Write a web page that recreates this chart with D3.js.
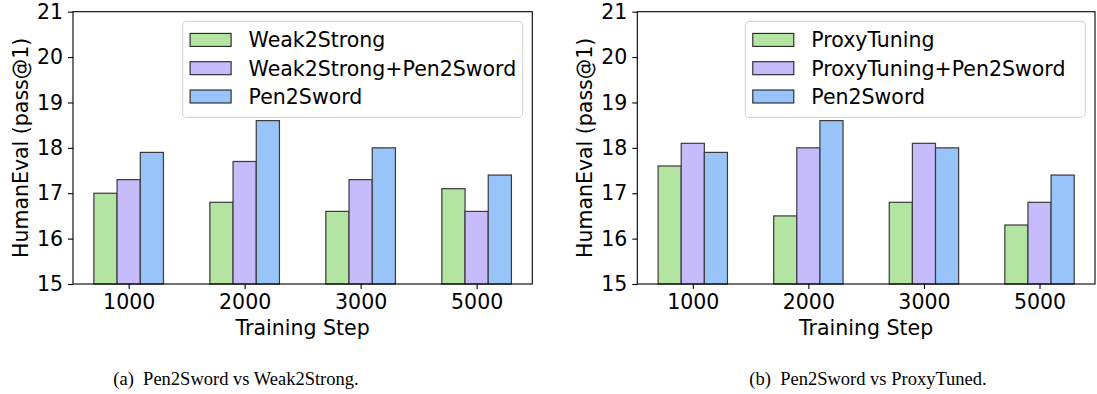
<!DOCTYPE html>
<html>
  <head>
    <script src="https://d3js.org/d3.v7.min.js"></script>
    <style>
      body { margin: 0; background: #fff; }
      text { font-family: "DejaVu Sans", sans-serif; fill: #000; }
      .caption { font-family: "Liberation Serif", "Times New Roman", serif; }
    </style>
  </head>
  <body>
    <script>

      // data
      var steps = ["1000", "2000", "3000", "5000"]
      var yTicks = [15, 16, 17, 18, 19, 20, 21]

      var weak2strong = [17.0, 16.8, 16.6, 17.1]
      var weak2strongPen = [17.3, 17.7, 17.3, 16.6]
      var proxyTuning = [17.6, 16.5, 16.8, 16.3]
      var proxyTuningPen = [18.1, 18.0, 18.1, 16.8]
      var pen2sword = [17.9, 18.6, 18.0, 17.4]

      var leftNames = ["Weak2Strong", "Weak2Strong+Pen2Sword", "Pen2Sword"]
      var rightNames = ["ProxyTuning", "ProxyTuning+Pen2Sword", "Pen2Sword"]
      var captions = ["(a)\u00a0 Pen2Sword vs Weak2Strong.", "(b)\u00a0 Pen2Sword vs ProxyTuned."]

      var colors = ["#b4e4a1", "#c6bcfb", "#98c4fa"]

      // sizes
      var w_svg = 1097
      var h_svg = 394
      var plotTop = 11.7
      var plotBottom = 284
      var fs = 20.5
      var barWidth = 0.2

      var svg = d3.select("body")
        .append("svg")
        .attr("width", w_svg)
        .attr("height", h_svg)

      var panels = [
        { left: 73, right: 532.3, names: leftNames, series: [weak2strong, weak2strongPen, pen2sword], caption: captions[0], capX: 236 },
        { left: 637.3, right: 1095, names: rightNames, series: [proxyTuning, proxyTuningPen, pen2sword], caption: captions[1], capX: 868 }
      ]

      panels.forEach(function(p) {
        draw_panel(p)
      })

      function draw_panel(p) {

        var g = svg.append("g")

        var x_scale = d3.scaleLinear()
          .domain([-0.48, 3.48])
          .range([p.left, p.right])

        var y_scale = d3.scaleLinear()
          .domain([15, 21])
          .range([plotBottom, plotTop])

        // bars
        p.series.forEach(function(values, s) {
          g.selectAll(null)
            .data(values)
            .enter()
            .append("rect")
            .attr("x", function(d, i) { return x_scale(i + (s - 1) * barWidth - barWidth / 2) })
            .attr("y", function(d) { return y_scale(d) })
            .attr("width", x_scale(barWidth) - x_scale(0))
            .attr("height", function(d) { return plotBottom - y_scale(d) })
            .attr("fill", colors[s])
            .attr("stroke", "#3a3a3a")
            .attr("stroke-width", 1.2)
        })

        // x axis
        var x_axis = d3.axisBottom(x_scale)
          .tickValues([0, 1, 2, 3])
          .tickFormat(function(d) { return steps[d] })
          .tickSize(5)
          .tickPadding(5)

        var xg = g.append("g")
          .attr("transform", "translate(0," + plotBottom + ")")
          .call(x_axis)
        xg.select(".domain").remove()
        xg.selectAll("text").style("font-size", fs + "px").attr("font-family", "DejaVu Sans")

        // y axis
        var y_axis = d3.axisLeft(y_scale)
          .tickValues(yTicks)
          .tickFormat(d3.format("d"))
          .tickSize(5)
          .tickPadding(5)

        var yg = g.append("g")
          .attr("transform", "translate(" + p.left + ",0)")
          .call(y_axis)
        yg.select(".domain").remove()
        yg.selectAll("text").style("font-size", fs + "px").attr("font-family", "DejaVu Sans")
        g.selectAll(".tick line").attr("stroke", "#000").attr("stroke-width", 1.1)

        // frame
        g.append("rect")
          .attr("x", p.left)
          .attr("y", plotTop)
          .attr("width", p.right - p.left)
          .attr("height", plotBottom - plotTop)
          .attr("fill", "none")
          .attr("stroke", "#000")
          .attr("stroke-width", 1.1)

        // axis titles
        g.append("text")
          .attr("x", (p.left + p.right) / 2)
          .attr("y", 335)
          .attr("text-anchor", "middle")
          .style("font-size", fs + "px")
          .text("Training Step")

        g.append("text")
          .attr("transform", "translate(" + (p.left - 45) + "," + ((plotTop + plotBottom) / 2) + ") rotate(-90)")
          .attr("text-anchor", "middle")
          .style("font-size", fs + "px")
          .text("HumanEval (pass@1)")

        // legend
        var lw = 340
        var lx = p.right - 9.7 - lw
        var ly = plotTop + 9.7
        var leg = g.append("g")
        leg.append("rect")
          .attr("x", lx)
          .attr("y", ly)
          .attr("width", lw)
          .attr("height", 96)
          .attr("rx", 4)
          .attr("fill", "#fff")
          .attr("fill-opacity", 0.8)
          .attr("stroke", "#d6d6d6")
          .attr("stroke-width", 1.1)

        p.names.forEach(function(name, s) {
          var cy = ly + 18.5 + s * 28.3
          leg.append("rect")
            .attr("x", lx + 7.5)
            .attr("y", cy - 6.5)
            .attr("width", 41)
            .attr("height", 13)
            .attr("fill", colors[s])
            .attr("stroke", "#222")
            .attr("stroke-width", 1.1)
          leg.append("text")
            .attr("x", lx + 66)
            .attr("y", cy)
            .attr("dy", "0.36em")
            .style("font-size", fs + "px")
            .text(name)
        })

        // caption
        svg.append("text")
          .attr("class", "caption")
          .attr("x", p.capX)
          .attr("y", 385)
          .attr("text-anchor", "middle")
          .style("font-size", "18.5px")
          .text(p.caption)
      }

    </script>
  </body>
</html>
